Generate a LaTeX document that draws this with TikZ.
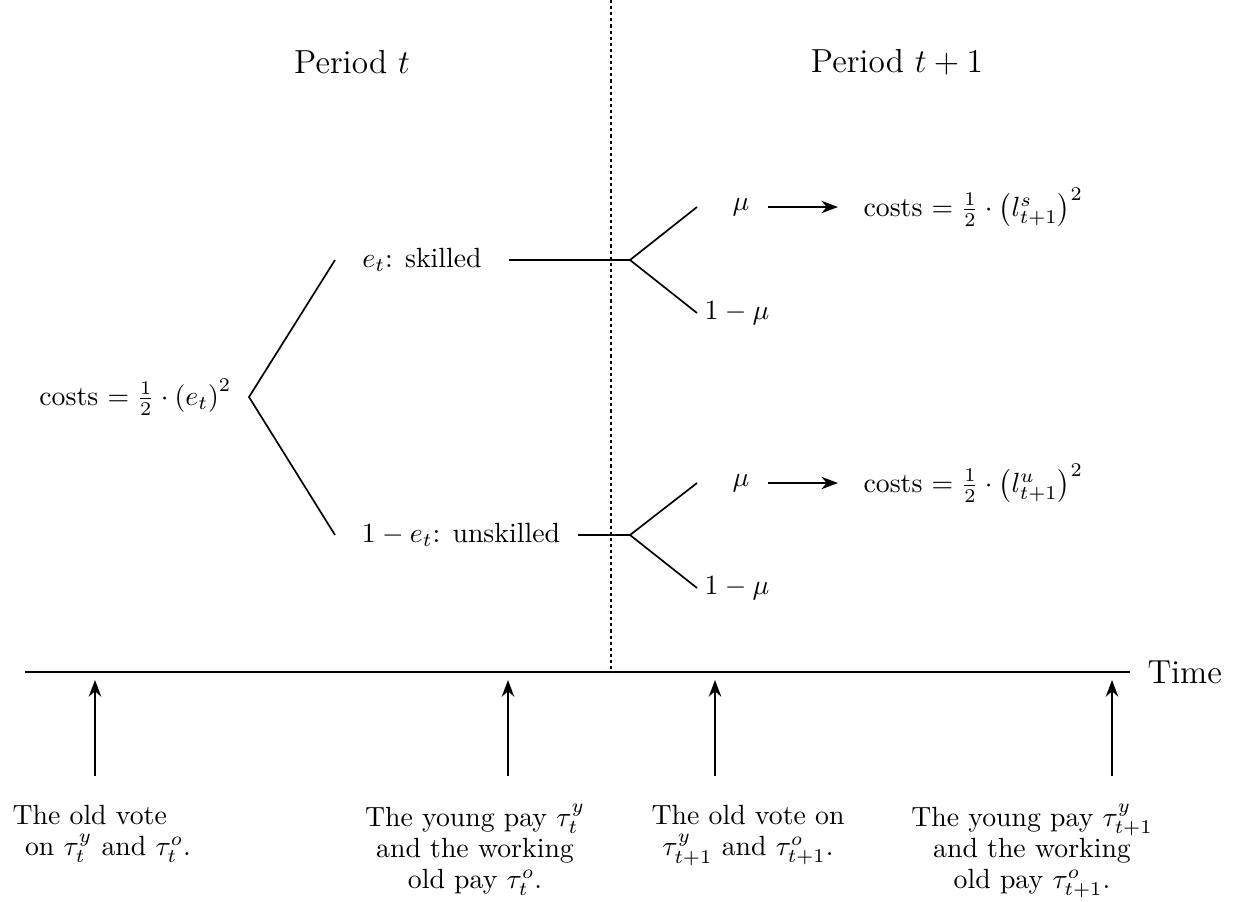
\documentclass[tikz,border=0pt]{standalone}
\usetikzlibrary{arrows.meta}
\begin{document}
\begin{tikzpicture}[x=0.36pt,y=-0.36pt,
  ln/.style={line width=0.6pt},
  arr/.style={line width=0.6pt,-{Stealth[length=6pt,width=4.5pt]}},
  lbl/.style={inner sep=0pt,font=\normalsize},
  bot/.style={inner sep=0pt,align=center,anchor=north,font=\fontsize{10pt}{11.2pt}\selectfont}]
\useasboundingbox (0,0) rectangle (1233,901);
% headers
\node[lbl,font=\large] (pt) at (352,62) {Period $t$};
\node[lbl,font=\large] (pt1) at (897,62) {Period $t+1$};
% divider and time axis
\coordinate (dtop) at (611,0);
\coordinate (dbot) at (611,672);
\draw[line width=0.6pt,dash pattern=on 1.1pt off 1.1pt] (dtop) -- (dbot);
\coordinate (ax0) at (25,672);
\coordinate (ax1) at (1130,672);
\draw[ln] (ax0) -- (ax1);
\node[lbl,font=\large,anchor=west] (time) at (1147,672) {Time};
% root
\node[lbl,anchor=east] (c0) at (232,397) {costs $=\frac{1}{2}\cdot\left(e_t\right)^2$};
\coordinate (r) at (249,397);
\coordinate (sa) at (335,260);
\coordinate (ua) at (335,535);
\draw[ln] (sa) -- (r) -- (ua);
% skilled branch
\node[lbl] (sk) at (422,260) {$e_t$: skilled};
\coordinate (s0) at (509,260);
\coordinate (sf) at (630,260);
\coordinate (sm) at (697,207);
\coordinate (sn) at (697,313);
\draw[ln] (s0) -- (sf);
\draw[ln] (sm) -- (sf) -- (sn);
\node[lbl] (smu) at (741,207) {$\mu$};
\node[lbl] (snu) at (737,313) {$1-\mu$};
\node[lbl,anchor=west] (scost) at (863,207) {costs $=\frac{1}{2}\cdot\left(l^s_{t+1}\right)^2$};
\coordinate (sa0) at (768,207);
\coordinate (sa1) at (838,207);
\draw[arr] (sa0) -- (sa1);
% unskilled branch
\node[lbl] (un) at (461,535) {$1-e_t$: unskilled};
\coordinate (u0) at (578,535);
\coordinate (uf) at (630,535);
\coordinate (um) at (697,483);
\coordinate (un2) at (697,588);
\draw[ln] (u0) -- (uf);
\draw[ln] (um) -- (uf) -- (un2);
\node[lbl] (umu) at (741,483) {$\mu$};
\node[lbl] (unu) at (737,588) {$1-\mu$};
\node[lbl,anchor=west] (ucost) at (863,483) {costs $=\frac{1}{2}\cdot\left(l^u_{t+1}\right)^2$};
\coordinate (ua0) at (768,483);
\coordinate (ua1) at (838,483);
\draw[arr] (ua0) -- (ua1);
% timeline arrows
\foreach \i/\x in {1/95,2/508,3/715,4/1112}{
  \coordinate (b\i) at (\x,776);
  \coordinate (t\i) at (\x,680);
  \draw[arr] (b\i) -- (t\i);
}
\node[bot,align=left,anchor=north west] (e1) at (12,805) {The old vote\\ \hspace{4.5pt}on $\tau^y_t$ and $\tau^o_t$.};
\node[bot] (e2) at (475,804) {The young pay $\tau^y_t$\\ and the working\\ old pay $\tau^o_t$.};
\node[bot] (e3) at (748,805) {The old vote on\\ $\tau^y_{t+1}$ and $\tau^o_{t+1}$.};
\node[bot] (e4) at (1032,804) {The young pay $\tau^y_{t+1}$\\ and the working\\ old pay $\tau^o_{t+1}$.};
\end{tikzpicture}
\end{document}
